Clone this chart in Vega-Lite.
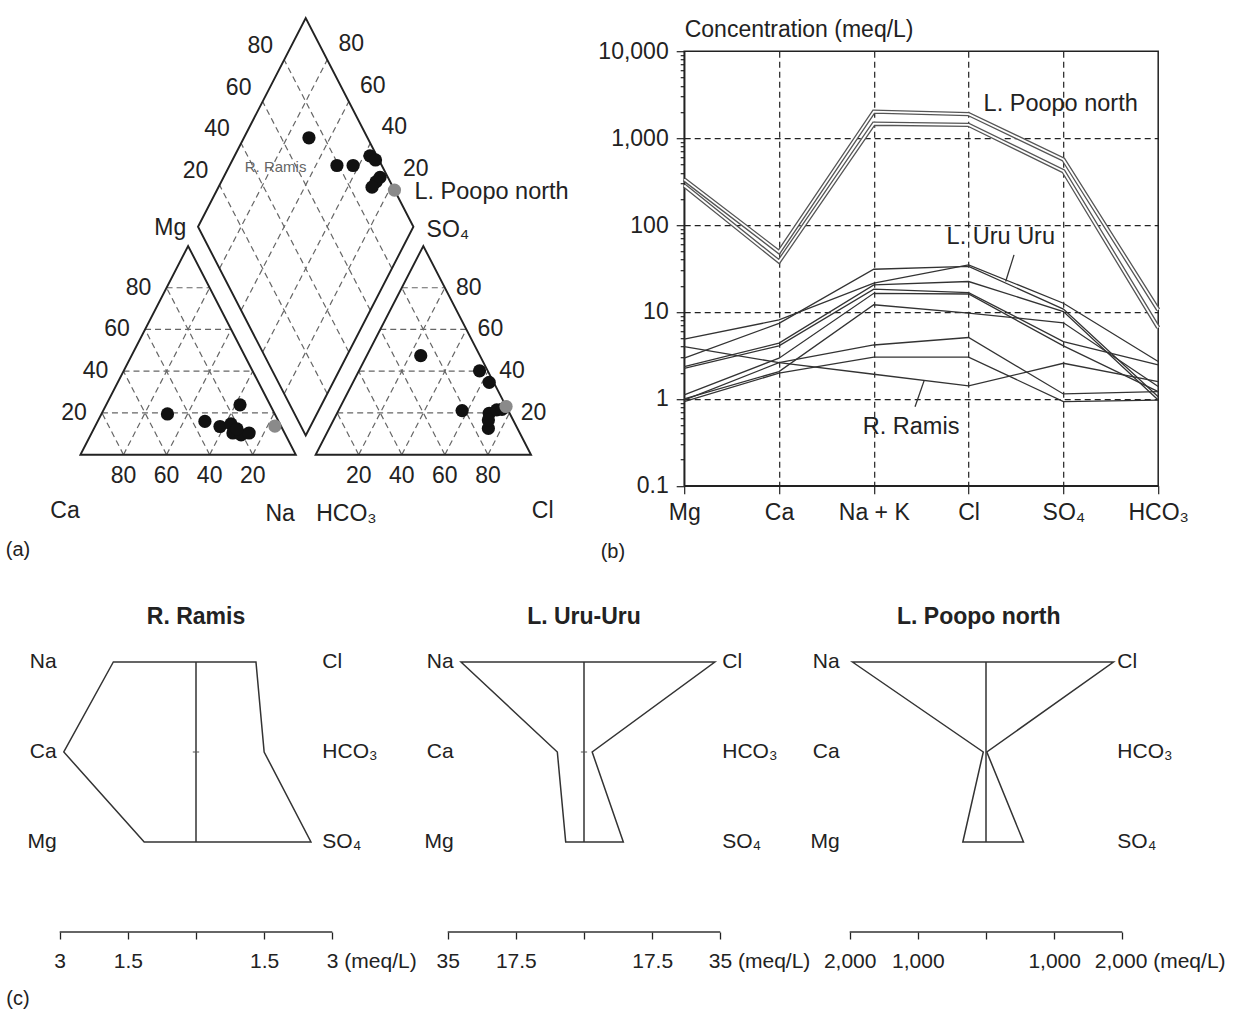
{
 "$schema": "https://vega.github.io/schema/vega-lite/v6.json",
 "padding": 0,
 "background": "white",
 "spacing": 39,
 "config": {
  "font": "Liberation Sans",
  "view": {"stroke": null},
  "text": {"font": "Liberation Sans", "fontSize": 23, "color": "#222"},
  "axis": {"labelFont": "Liberation Sans", "titleFont": "Liberation Sans", "labelColor": "#222", "titleColor": "#222", "domainColor": "#222", "tickColor": "#222"}
 },
 "datasets": {
  "piper_outline": [
   {"shape": "cation", "seq": 1, "x": 0, "y": 0}, {"shape": "cation", "seq": 2, "x": 100, "y": 0}, {"shape": "cation", "seq": 3, "x": 50, "y": 86.6},
   {"shape": "anion", "seq": 1, "x": 109.2, "y": 0}, {"shape": "anion", "seq": 2, "x": 209.2, "y": 0}, {"shape": "anion", "seq": 3, "x": 159.2, "y": 86.6},
   {"shape": "diamond", "seq": 1, "x": 104.6, "y": 7.97}, {"shape": "diamond", "seq": 2, "x": 154.6, "y": 94.57}, {"shape": "diamond", "seq": 3, "x": 104.6, "y": 181.17}, {"shape": "diamond", "seq": 4, "x": 54.6, "y": 94.57}
  ],
  "piper_grid": [
   {"family": "Mg", "value": 20, "x": 10, "y": 17.32, "x2": 90, "y2": 17.32},
   {"family": "Mg", "value": 40, "x": 20, "y": 34.64, "x2": 80, "y2": 34.64},
   {"family": "Mg", "value": 60, "x": 30, "y": 51.96, "x2": 70, "y2": 51.96},
   {"family": "Mg", "value": 80, "x": 40, "y": 69.28, "x2": 60, "y2": 69.28},
   {"family": "Na", "value": 20, "x": 20, "y": 0, "x2": 60, "y2": 69.28},
   {"family": "Na", "value": 40, "x": 40, "y": 0, "x2": 70, "y2": 51.96},
   {"family": "Na", "value": 60, "x": 60, "y": 0, "x2": 80, "y2": 34.64},
   {"family": "Na", "value": 80, "x": 80, "y": 0, "x2": 90, "y2": 17.32},
   {"family": "Ca", "value": 20, "x": 80, "y": 0, "x2": 40, "y2": 69.28},
   {"family": "Ca", "value": 40, "x": 60, "y": 0, "x2": 30, "y2": 51.96},
   {"family": "Ca", "value": 60, "x": 40, "y": 0, "x2": 20, "y2": 34.64},
   {"family": "Ca", "value": 80, "x": 20, "y": 0, "x2": 10, "y2": 17.32},
   {"family": "SO4", "value": 20, "x": 119.2, "y": 17.32, "x2": 199.2, "y2": 17.32},
   {"family": "SO4", "value": 40, "x": 129.2, "y": 34.64, "x2": 189.2, "y2": 34.64},
   {"family": "SO4", "value": 60, "x": 139.2, "y": 51.96, "x2": 179.2, "y2": 51.96},
   {"family": "SO4", "value": 80, "x": 149.2, "y": 69.28, "x2": 169.2, "y2": 69.28},
   {"family": "Cl", "value": 20, "x": 129.2, "y": 0, "x2": 169.2, "y2": 69.28},
   {"family": "Cl", "value": 40, "x": 149.2, "y": 0, "x2": 179.2, "y2": 51.96},
   {"family": "Cl", "value": 60, "x": 169.2, "y": 0, "x2": 189.2, "y2": 34.64},
   {"family": "Cl", "value": 80, "x": 189.2, "y": 0, "x2": 199.2, "y2": 17.32},
   {"family": "HCO3", "value": 20, "x": 189.2, "y": 0, "x2": 149.2, "y2": 69.28},
   {"family": "HCO3", "value": 40, "x": 169.2, "y": 0, "x2": 139.2, "y2": 51.96},
   {"family": "HCO3", "value": 60, "x": 149.2, "y": 0, "x2": 129.2, "y2": 34.64},
   {"family": "HCO3", "value": 80, "x": 129.2, "y": 0, "x2": 119.2, "y2": 17.32},
   {"family": "CaMg", "value": 20, "x": 94.6, "y": 25.29, "x2": 144.6, "y2": 111.89},
   {"family": "CaMg", "value": 40, "x": 84.6, "y": 42.61, "x2": 134.6, "y2": 129.21},
   {"family": "CaMg", "value": 60, "x": 74.6, "y": 59.93, "x2": 124.6, "y2": 146.53},
   {"family": "CaMg", "value": 80, "x": 64.6, "y": 77.25, "x2": 114.6, "y2": 163.85},
   {"family": "SO4Cl", "value": 20, "x": 114.6, "y": 25.29, "x2": 64.6, "y2": 111.89},
   {"family": "SO4Cl", "value": 40, "x": 124.6, "y": 42.61, "x2": 74.6, "y2": 129.21},
   {"family": "SO4Cl", "value": 60, "x": 134.6, "y": 59.93, "x2": 84.6, "y2": 146.53},
   {"family": "SO4Cl", "value": 80, "x": 144.6, "y": 77.25, "x2": 94.6, "y2": 163.85}
  ],
  "piper_points": [
   {"plot": "cation", "group": "other", "x": 40.4, "y": 16.9},
   {"plot": "cation", "group": "other", "x": 57.8, "y": 13.8},
   {"plot": "cation", "group": "other", "x": 64.8, "y": 11.7},
   {"plot": "cation", "group": "other", "x": 69.9, "y": 12.75},
   {"plot": "cation", "group": "other", "x": 74.1, "y": 20.7},
   {"plot": "cation", "group": "other", "x": 70.8, "y": 9.0},
   {"plot": "cation", "group": "other", "x": 74.6, "y": 8.2},
   {"plot": "cation", "group": "other", "x": 78.3, "y": 9.0},
   {"plot": "cation", "group": "other", "x": 72.7, "y": 10.7},
   {"plot": "cation", "group": "L. Poopo north", "x": 90.3, "y": 11.9},
   {"plot": "anion", "group": "other", "x": 158.0, "y": 41.1},
   {"plot": "anion", "group": "other", "x": 185.3, "y": 34.8},
   {"plot": "anion", "group": "other", "x": 189.8, "y": 30.0},
   {"plot": "anion", "group": "other", "x": 177.2, "y": 18.3},
   {"plot": "anion", "group": "other", "x": 189.8, "y": 17.2},
   {"plot": "anion", "group": "other", "x": 193.3, "y": 18.6},
   {"plot": "anion", "group": "other", "x": 189.4, "y": 10.9},
   {"plot": "anion", "group": "other", "x": 189.4, "y": 14.4},
   {"plot": "anion", "group": "other", "x": 195.7, "y": 18.8},
   {"plot": "anion", "group": "L. Poopo north", "x": 197.6, "y": 20.0},
   {"plot": "diamond", "group": "other", "x": 106.1, "y": 131.5},
   {"plot": "diamond", "group": "other", "x": 119.1, "y": 120.0},
   {"plot": "diamond", "group": "other", "x": 126.6, "y": 120.0},
   {"plot": "diamond", "group": "other", "x": 134.4, "y": 124.0},
   {"plot": "diamond", "group": "other", "x": 137.0, "y": 122.3},
   {"plot": "diamond", "group": "other", "x": 139.1, "y": 115.1},
   {"plot": "diamond", "group": "other", "x": 137.2, "y": 113.2},
   {"plot": "diamond", "group": "other", "x": 135.4, "y": 111.0},
   {"plot": "diamond", "group": "L. Poopo north", "x": 145.8, "y": 109.8}
  ],
  "piper_labels": [
   {"label": "Ca", "x": -7.15, "y": -23.4},
   {"label": "Na", "x": 92.7, "y": -24.75},
   {"label": "HCO₃", "x": 123.5, "y": -24.75},
   {"label": "Cl", "x": 214.6, "y": -23.4},
   {"label": "Mg", "x": 41.7, "y": 93.9},
   {"label": "SO₄", "x": 170.6, "y": 93.4}
  ],
  "schoeller": [
   {"sample": "P1", "group": "L. Poopo north", "ion": "Mg", "meq": 335}, {"sample": "P1", "group": "L. Poopo north", "ion": "Ca", "meq": 49}, {"sample": "P1", "group": "L. Poopo north", "ion": "Na+K", "meq": 2018}, {"sample": "P1", "group": "L. Poopo north", "ion": "Cl", "meq": 1890}, {"sample": "P1", "group": "L. Poopo north", "ion": "SO4", "meq": 569}, {"sample": "P1", "group": "L. Poopo north", "ion": "HCO3", "meq": 10.6},
   {"sample": "P2", "group": "L. Poopo north", "ion": "Mg", "meq": 285}, {"sample": "P2", "group": "L. Poopo north", "ion": "Ca", "meq": 38}, {"sample": "P2", "group": "L. Poopo north", "ion": "Na+K", "meq": 1465}, {"sample": "P2", "group": "L. Poopo north", "ion": "Cl", "meq": 1422}, {"sample": "P2", "group": "L. Poopo north", "ion": "SO4", "meq": 416}, {"sample": "P2", "group": "L. Poopo north", "ion": "HCO3", "meq": 6.6},
   {"sample": "U1", "group": "L. Uru Uru", "ion": "Mg", "meq": 4.86}, {"sample": "U1", "group": "L. Uru Uru", "ion": "Ca", "meq": 8.1}, {"sample": "U1", "group": "L. Uru Uru", "ion": "Na+K", "meq": 21.5}, {"sample": "U1", "group": "L. Uru Uru", "ion": "Cl", "meq": 34.8}, {"sample": "U1", "group": "L. Uru Uru", "ion": "SO4", "meq": 12.6}, {"sample": "U1", "group": "L. Uru Uru", "ion": "HCO3", "meq": 2.69},
   {"sample": "U2", "group": "L. Uru Uru", "ion": "Mg", "meq": 2.94}, {"sample": "U2", "group": "L. Uru Uru", "ion": "Ca", "meq": 7.4}, {"sample": "U2", "group": "L. Uru Uru", "ion": "Na+K", "meq": 31}, {"sample": "U2", "group": "L. Uru Uru", "ion": "Cl", "meq": 33.5}, {"sample": "U2", "group": "L. Uru Uru", "ion": "SO4", "meq": 10.8}, {"sample": "U2", "group": "L. Uru Uru", "ion": "HCO3", "meq": 1.06},
   {"sample": "U3", "group": "L. Uru Uru", "ion": "Mg", "meq": 2.35}, {"sample": "U3", "group": "L. Uru Uru", "ion": "Ca", "meq": 4.38}, {"sample": "U3", "group": "L. Uru Uru", "ion": "Na+K", "meq": 20.5}, {"sample": "U3", "group": "L. Uru Uru", "ion": "Cl", "meq": 22.4}, {"sample": "U3", "group": "L. Uru Uru", "ion": "SO4", "meq": 10.1}, {"sample": "U3", "group": "L. Uru Uru", "ion": "HCO3", "meq": 0.97},
   {"sample": "U4", "group": "L. Uru Uru", "ion": "Mg", "meq": 2.25}, {"sample": "U4", "group": "L. Uru Uru", "ion": "Ca", "meq": 4.07}, {"sample": "U4", "group": "L. Uru Uru", "ion": "Na+K", "meq": 18.3}, {"sample": "U4", "group": "L. Uru Uru", "ion": "Cl", "meq": 16.7}, {"sample": "U4", "group": "L. Uru Uru", "ion": "SO4", "meq": 4.57}, {"sample": "U4", "group": "L. Uru Uru", "ion": "HCO3", "meq": 2.46},
   {"sample": "U5", "group": "L. Uru Uru", "ion": "Mg", "meq": 1.11}, {"sample": "U5", "group": "L. Uru Uru", "ion": "Ca", "meq": 2.94}, {"sample": "U5", "group": "L. Uru Uru", "ion": "Na+K", "meq": 16.4}, {"sample": "U5", "group": "L. Uru Uru", "ion": "Cl", "meq": 16.1}, {"sample": "U5", "group": "L. Uru Uru", "ion": "SO4", "meq": 4.07}, {"sample": "U5", "group": "L. Uru Uru", "ion": "HCO3", "meq": 1.21},
   {"sample": "U6", "group": "L. Uru Uru", "ion": "Mg", "meq": 1.0}, {"sample": "U6", "group": "L. Uru Uru", "ion": "Ca", "meq": 2.06}, {"sample": "U6", "group": "L. Uru Uru", "ion": "Na+K", "meq": 12.1}, {"sample": "U6", "group": "L. Uru Uru", "ion": "Cl", "meq": 9.7}, {"sample": "U6", "group": "L. Uru Uru", "ion": "SO4", "meq": 7.5}, {"sample": "U6", "group": "L. Uru Uru", "ion": "HCO3", "meq": 1.39},
   {"sample": "R1", "group": "R. Ramis", "ion": "Mg", "meq": 0.97}, {"sample": "R1", "group": "R. Ramis", "ion": "Ca", "meq": 2.61}, {"sample": "R1", "group": "R. Ramis", "ion": "Na+K", "meq": 4.17}, {"sample": "R1", "group": "R. Ramis", "ion": "Cl", "meq": 5.08}, {"sample": "R1", "group": "R. Ramis", "ion": "SO4", "meq": 1.14}, {"sample": "R1", "group": "R. Ramis", "ion": "HCO3", "meq": 1.21},
   {"sample": "R2", "group": "R. Ramis", "ion": "Mg", "meq": 0.93}, {"sample": "R2", "group": "R. Ramis", "ion": "Ca", "meq": 1.98}, {"sample": "R2", "group": "R. Ramis", "ion": "Na+K", "meq": 3.02}, {"sample": "R2", "group": "R. Ramis", "ion": "Cl", "meq": 3.02}, {"sample": "R2", "group": "R. Ramis", "ion": "SO4", "meq": 0.93}, {"sample": "R2", "group": "R. Ramis", "ion": "HCO3", "meq": 0.97},
   {"sample": "R3", "group": "R. Ramis", "ion": "Mg", "meq": 4.0}, {"sample": "R3", "group": "R. Ramis", "ion": "Ca", "meq": 2.61}, {"sample": "R3", "group": "R. Ramis", "ion": "Na+K", "meq": 1.92}, {"sample": "R3", "group": "R. Ramis", "ion": "Cl", "meq": 1.41}, {"sample": "R3", "group": "R. Ramis", "ion": "SO4", "meq": 2.57}, {"sample": "R3", "group": "R. Ramis", "ion": "HCO3", "meq": 1.58}
  ],
  "stiff_ramis": [
   {"ion": "Na", "label": "Na", "side": "cation", "row": 1, "seq": 1, "meq_signed": -1.82},
   {"ion": "Ca", "label": "Ca", "side": "cation", "row": 2, "seq": 2, "meq_signed": -2.91},
   {"ion": "Mg", "label": "Mg", "side": "cation", "row": 3, "seq": 3, "meq_signed": -1.14},
   {"ion": "SO4", "label": "SO₄", "side": "anion", "row": 3, "seq": 4, "meq_signed": 2.53},
   {"ion": "HCO3", "label": "HCO₃", "side": "anion", "row": 2, "seq": 5, "meq_signed": 1.5},
   {"ion": "Cl", "label": "Cl", "side": "anion", "row": 1, "seq": 6, "meq_signed": 1.32}
  ],
  "stiff_uru": [
   {"ion": "Na", "label": "Na", "side": "cation", "row": 1, "seq": 1, "meq_signed": -31.6},
   {"ion": "Ca", "label": "Ca", "side": "cation", "row": 2, "seq": 2, "meq_signed": -6.85},
   {"ion": "Mg", "label": "Mg", "side": "cation", "row": 3, "seq": 3, "meq_signed": -4.7},
   {"ion": "SO4", "label": "SO₄", "side": "anion", "row": 3, "seq": 4, "meq_signed": 10.1},
   {"ion": "HCO3", "label": "HCO₃", "side": "anion", "row": 2, "seq": 5, "meq_signed": 2.1},
   {"ion": "Cl", "label": "Cl", "side": "anion", "row": 1, "seq": 6, "meq_signed": 33.6}
  ],
  "stiff_poopo": [
   {"ion": "Na", "label": "Na", "side": "cation", "row": 1, "seq": 1, "meq_signed": -1960},
   {"ion": "Ca", "label": "Ca", "side": "cation", "row": 2, "seq": 2, "meq_signed": -40},
   {"ion": "Mg", "label": "Mg", "side": "cation", "row": 3, "seq": 3, "meq_signed": -340},
   {"ion": "SO4", "label": "SO₄", "side": "anion", "row": 3, "seq": 4, "meq_signed": 550},
   {"ion": "HCO3", "label": "HCO₃", "side": "anion", "row": 2, "seq": 5, "meq_signed": 12},
   {"ion": "Cl", "label": "Cl", "side": "anion", "row": 1, "seq": 6, "meq_signed": 1870}
  ]
 },
 "vconcat": [
  {
   "spacing": 94.2,
   "bounds": "flush",
   "center": true,
   "hconcat": [
    {
     "width": 590,
     "height": 536.8,
     "layer": [
      {
       "data": {"name": "piper_grid"},
       "mark": {"type": "rule", "stroke": "#666", "strokeWidth": 1.2, "strokeDash": [6, 4]},
       "encoding": {
        "x": {"field": "x", "type": "quantitative", "scale": {"domain": [-37.33, 236.58], "nice": false, "zero": false}, "axis": null},
        "y": {"field": "y", "type": "quantitative", "scale": {"domain": [-34.11, 188.63], "nice": false, "zero": false}, "axis": null},
        "x2": {"field": "x2"},
        "y2": {"field": "y2"}
       }
      },
      {
       "data": {"name": "piper_outline"},
       "mark": {"type": "line", "interpolate": "linear-closed", "stroke": "#222", "strokeWidth": 1.9},
       "encoding": {
        "x": {"field": "x", "type": "quantitative"},
        "y": {"field": "y", "type": "quantitative"},
        "detail": {"field": "shape"},
        "order": {"field": "seq"}
       }
      },
      {
       "data": {"name": "piper_grid"},
       "transform": [{"filter": "datum.family == 'Mg'"}],
       "mark": {"type": "text", "dx": -28},
       "encoding": {"x": {"field": "x", "type": "quantitative"}, "y": {"field": "y", "type": "quantitative"}, "text": {"field": "value"}}
      },
      {
       "data": {"name": "piper_grid"},
       "transform": [{"filter": "datum.family == 'Ca' || datum.family == 'Cl'"}],
       "mark": {"type": "text", "dy": 21},
       "encoding": {"x": {"field": "x", "type": "quantitative"}, "y": {"field": "y", "type": "quantitative"}, "text": {"field": "value"}}
      },
      {
       "data": {"name": "piper_grid"},
       "transform": [{"filter": "datum.family == 'SO4'"}],
       "mark": {"type": "text", "dx": 24},
       "encoding": {"x": {"field": "x2", "type": "quantitative"}, "y": {"field": "y2", "type": "quantitative"}, "text": {"field": "value"}}
      },
      {
       "data": {"name": "piper_grid"},
       "transform": [{"filter": "datum.family == 'CaMg'"}],
       "mark": {"type": "text", "dx": 24, "dy": -16},
       "encoding": {"x": {"field": "x2", "type": "quantitative"}, "y": {"field": "y2", "type": "quantitative"}, "text": {"field": "value"}}
      },
      {
       "data": {"name": "piper_grid"},
       "transform": [{"filter": "datum.family == 'SO4Cl'"}],
       "mark": {"type": "text", "dx": -24, "dy": -14},
       "encoding": {"x": {"field": "x2", "type": "quantitative"}, "y": {"field": "y2", "type": "quantitative"}, "text": {"field": "value"}}
      },
      {
       "data": {"name": "piper_points"},
       "mark": {"type": "circle", "size": 175, "opacity": 1},
       "encoding": {
        "x": {"field": "x", "type": "quantitative"},
        "y": {"field": "y", "type": "quantitative"},
        "color": {"field": "group", "type": "nominal", "scale": {"domain": ["L. Poopo north", "other"], "range": ["#8a8a8a", "#111111"]}, "legend": null}
       }
      },
      {
       "data": {"name": "piper_labels"},
       "mark": {"type": "text"},
       "encoding": {"x": {"field": "x", "type": "quantitative"}, "y": {"field": "y", "type": "quantitative"}, "text": {"field": "label"}}
      },
      {
       "data": {"values": [{"label": "(a)"}]},
       "mark": {"type": "text", "fontSize": 20},
       "encoding": {"x": {"datum": -28.97}, "y": {"datum": -39.75}, "text": {"field": "label"}}
      },
      {
       "data": {"values": [{"label": "L. Poopo north"}]},
       "mark": {"type": "text", "align": "left", "fontSize": 23.5},
       "encoding": {"x": {"datum": 155.1}, "y": {"datum": 108.8}, "text": {"field": "label"}}
      },
      {
       "data": {"values": [{"label": "R. Ramis"}]},
       "mark": {"type": "text", "fontSize": 15, "color": "#666"},
       "encoding": {"x": {"datum": 90.6}, "y": {"datum": 119.2}, "text": {"field": "label"}}
      }
     ]
    },
    {
     "width": 474,
     "height": 434.6,
     "view": {"stroke": "#222", "strokeWidth": 1.5},
     "resolve": {"scale": {"x": "independent"}},
     "layer": [
      {
       "data": {"name": "schoeller"},
       "encoding": {
        "x": {
         "field": "ion", "type": "nominal",
         "scale": {"type": "point", "domain": ["Mg", "Ca", "Na+K", "Cl", "SO4", "HCO3"], "padding": 0},
         "axis": {
          "title": null, "labelAngle": 0,
          "labelExpr": "datum.value == 'Na+K' ? 'Na + K' : datum.value == 'SO4' ? 'SO₄' : datum.value == 'HCO3' ? 'HCO₃' : datum.value",
          "labelFontSize": 23, "labelPadding": 8, "tickSize": 8, "tickWidth": 1.2,
          "grid": true, "gridDash": [6, 4], "gridColor": "#222", "gridWidth": 1.2,
          "gridOpacity": {"condition": {"test": "datum.value == 'Mg' || datum.value == 'HCO3'", "value": 0}, "value": 1},
          "domainWidth": 1.5
         }
        },
        "y": {
         "field": "meq", "type": "quantitative",
         "scale": {"type": "log", "domain": [0.1, 10000], "nice": false},
         "axis": {
          "values": [0.1, 0.2, 0.3, 0.4, 0.5, 0.6, 0.7, 0.8, 0.9, 1, 2, 3, 4, 5, 6, 7, 8, 9, 10, 20, 30, 40, 50, 60, 70, 80, 90, 100, 200, 300, 400, 500, 600, 700, 800, 900, 1000, 2000, 3000, 4000, 5000, 6000, 7000, 8000, 9000, 10000],
          "format": ",",
          "labelExpr": "indexof([0.1, 1, 10, 100, 1000, 10000], datum.value) >= 0 ? datum.label : ''",
          "labelOverlap": false, "labelFlush": false,
          "tickSize": {"condition": {"test": "indexof([0.1, 1, 10, 100, 1000, 10000], datum.value) >= 0", "value": 8}, "value": 4},
          "tickWidth": 1.2,
          "grid": true, "gridDash": [6, 4], "gridColor": "#222", "gridWidth": 1.2,
          "gridOpacity": {"condition": {"test": "indexof([1, 10, 100, 1000], datum.value) >= 0", "value": 1}, "value": 0},
          "labelFontSize": 23, "labelPadding": 8,
          "title": "Concentration (meq/L)", "titleAngle": 0, "titleAlign": "left", "titleX": 0, "titleY": -22, "titleBaseline": "middle", "titleFontSize": 23, "titleFontWeight": "normal",
          "domainWidth": 1.5
         }
        },
        "detail": {"field": "sample"}
       },
       "layer": [
        {"transform": [{"filter": "datum.group != 'L. Poopo north'"}], "mark": {"type": "line", "stroke": "#333", "strokeWidth": 1.3}},
        {"transform": [{"filter": "datum.group == 'L. Poopo north'"}], "mark": {"type": "line", "stroke": "#555", "strokeWidth": 4.4}},
        {"transform": [{"filter": "datum.group == 'L. Poopo north'"}], "mark": {"type": "line", "stroke": "#ffffff", "strokeWidth": 1.8}}
       ]
      },
      {
       "layer": [
        {
         "data": {"values": [{"label": "L. Uru Uru leader"}]},
         "mark": {"type": "rule", "stroke": "#333", "strokeWidth": 1.3},
         "encoding": {
          "x": {"datum": 3.479, "type": "quantitative", "scale": {"domain": [0, 5], "nice": false, "zero": false}, "axis": null},
          "x2": {"datum": 3.391},
          "y": {"datum": 45.4},
          "y2": {"datum": 22.4}
         }
        },
        {
         "data": {"values": [{"label": "R. Ramis leader"}]},
         "mark": {"type": "rule", "stroke": "#333", "strokeWidth": 1.3},
         "encoding": {"x": {"datum": 2.53}, "x2": {"datum": 2.435}, "y": {"datum": 1.61}, "y2": {"datum": 0.81}}
        },
        {
         "data": {"values": [{"label": "L. Poopo north"}]},
         "mark": {"type": "text", "align": "left", "fontSize": 23.5},
         "encoding": {"x": {"datum": 3.158}, "y": {"datum": 2500}, "text": {"field": "label"}}
        },
        {
         "data": {"values": [{"label": "L. Uru Uru"}]},
         "mark": {"type": "text", "align": "left", "fontSize": 23.5},
         "encoding": {"x": {"datum": 2.768}, "y": {"datum": 72}, "text": {"field": "label"}}
        },
        {
         "data": {"values": [{"label": "R. Ramis"}]},
         "mark": {"type": "text", "align": "left", "fontSize": 23.5},
         "encoding": {"x": {"datum": 1.884}, "y": {"datum": 0.479}, "text": {"field": "label"}}
        },
        {
         "data": {"values": [{"label": "(b)"}]},
         "mark": {"type": "text", "fontSize": 20},
         "encoding": {"x": {"datum": -0.752}, "y": {"datum": 0.0175}, "text": {"field": "label"}}
        }
       ]
      }
     ]
    }
   ]
  },
  {
   "spacing": 0,
   "bounds": "flush",
   "hconcat": [
    {
     "width": 392,
     "height": 330,
     "layer": [
      {
       "data": {"name": "stiff_ramis"},
       "mark": {"type": "line", "interpolate": "linear-closed", "stroke": "#333", "strokeWidth": 1.5},
       "encoding": {
        "x": {
         "field": "meq_signed", "type": "quantitative",
         "scale": {"domain": [-4.314, 4.314], "nice": false, "zero": false},
         "axis": {
          "values": [-3, -1.5, 0, 1.5, 3],
          "labelExpr": "datum.value == 0 ? '' : datum.value == 3 ? '3 (meq/L)' : format(abs(datum.value), ',')",
          "domain": false, "grid": false, "tickSize": 7, "tickWidth": 1.3, "labelFontSize": 21, "labelPadding": 11, "title": null,
          "labelOverlap": false, "labelFlush": false,
          "labelAlign": {"condition": {"test": "datum.value == 3", "value": "left"}, "value": "center"},
          "labelOffset": {"condition": {"test": "datum.value == 3", "value": -6}, "value": 0}
         }
        },
        "y": {"field": "row", "type": "quantitative", "scale": {"domain": [0.3333, 4], "reverse": true, "nice": false, "zero": false}, "axis": null},
        "order": {"field": "seq"}
       }
      },
      {
       "data": {"name": "stiff_ramis"},
       "transform": [{"filter": "datum.side == 'cation'"}],
       "mark": {"type": "text", "align": "right", "dx": -3, "fontSize": 21},
       "encoding": {"x": {"datum": -3}, "y": {"field": "row", "type": "quantitative"}, "text": {"field": "label"}}
      },
      {
       "data": {"name": "stiff_ramis"},
       "transform": [{"filter": "datum.side == 'anion'"}],
       "mark": {"type": "text", "align": "left", "dx": -10, "fontSize": 21},
       "encoding": {"x": {"datum": 3}, "y": {"field": "row", "type": "quantitative"}, "text": {"field": "label"}}
      },
      {
       "data": {"values": [{"label": "R. Ramis"}]},
       "layer": [
        {"mark": {"type": "rule", "stroke": "#333", "strokeWidth": 1.5}, "encoding": {"x": {"datum": 0}, "y": {"datum": 1}, "y2": {"datum": 3}}},
        {"mark": {"type": "rule", "stroke": "#333", "strokeWidth": 1.3}, "encoding": {"x": {"datum": -3}, "x2": {"datum": 3}, "y": {"datum": 4}}},
        {"mark": {"type": "rule", "stroke": "#555", "strokeWidth": 1}, "encoding": {"x": {"datum": -0.07}, "x2": {"datum": 0.07}, "y": {"datum": 2}}},
        {"mark": {"type": "text", "fontSize": 23, "fontWeight": "bold"}, "encoding": {"x": {"datum": 0}, "y": {"datum": 0.5}, "text": {"field": "label"}}},
        {"mark": {"type": "text", "fontSize": 20}, "encoding": {"x": {"datum": -3.918}, "y": {"datum": 4.744}, "text": {"value": "(c)"}}}
       ]
      }
     ]
    },
    {
     "width": 384,
     "height": 330,
     "layer": [
      {
       "data": {"name": "stiff_uru"},
       "mark": {"type": "line", "interpolate": "linear-closed", "stroke": "#333", "strokeWidth": 1.5},
       "encoding": {
        "x": {
         "field": "meq_signed", "type": "quantitative",
         "scale": {"domain": [-49.31, 49.31], "nice": false, "zero": false},
         "axis": {
          "values": [-35, -17.5, 0, 17.5, 35],
          "labelExpr": "datum.value == 0 ? '' : datum.value == 35 ? '35 (meq/L)' : format(abs(datum.value), ',')",
          "domain": false, "grid": false, "tickSize": 7, "tickWidth": 1.3, "labelFontSize": 21, "labelPadding": 11, "title": null,
          "labelOverlap": false, "labelFlush": false,
          "labelAlign": {"condition": {"test": "datum.value == 35", "value": "left"}, "value": "center"},
          "labelOffset": {"condition": {"test": "datum.value == 35", "value": -12}, "value": 0}
         }
        },
        "y": {"field": "row", "type": "quantitative", "scale": {"domain": [0.3333, 4], "reverse": true, "nice": false, "zero": false}, "axis": null},
        "order": {"field": "seq"}
       }
      },
      {
       "data": {"name": "stiff_uru"},
       "transform": [{"filter": "datum.side == 'cation'"}],
       "mark": {"type": "text", "align": "right", "dx": 6, "fontSize": 21},
       "encoding": {"x": {"datum": -35}, "y": {"field": "row", "type": "quantitative"}, "text": {"field": "label"}}
      },
      {
       "data": {"name": "stiff_uru"},
       "transform": [{"filter": "datum.side == 'anion'"}],
       "mark": {"type": "text", "align": "left", "dx": 2, "fontSize": 21},
       "encoding": {"x": {"datum": 35}, "y": {"field": "row", "type": "quantitative"}, "text": {"field": "label"}}
      },
      {
       "data": {"values": [{"label": "L. Uru-Uru"}]},
       "layer": [
        {"mark": {"type": "rule", "stroke": "#333", "strokeWidth": 1.5}, "encoding": {"x": {"datum": 0}, "y": {"datum": 1}, "y2": {"datum": 3}}},
        {"mark": {"type": "rule", "stroke": "#333", "strokeWidth": 1.3}, "encoding": {"x": {"datum": -35}, "x2": {"datum": 35}, "y": {"datum": 4}}},
        {"mark": {"type": "rule", "stroke": "#555", "strokeWidth": 1}, "encoding": {"x": {"datum": -0.8}, "x2": {"datum": 0.8}, "y": {"datum": 2}}},
        {"mark": {"type": "text", "fontSize": 23, "fontWeight": "bold"}, "encoding": {"x": {"datum": 0}, "y": {"datum": 0.5}, "text": {"field": "label"}}}
       ]
      }
     ]
    },
    {
     "width": 420,
     "height": 330,
     "layer": [
      {
       "data": {"name": "stiff_poopo"},
       "mark": {"type": "line", "interpolate": "linear-closed", "stroke": "#333", "strokeWidth": 1.5},
       "encoding": {
        "x": {
         "field": "meq_signed", "type": "quantitative",
         "scale": {"domain": [-3081, 3081], "nice": false, "zero": false},
         "axis": {
          "values": [-2000, -1000, 0, 1000, 2000],
          "labelExpr": "datum.value == 0 ? '' : datum.value == 2000 ? '2,000 (meq/L)' : format(abs(datum.value), ',')",
          "domain": false, "grid": false, "tickSize": 7, "tickWidth": 1.3, "labelFontSize": 21, "labelPadding": 11, "title": null,
          "labelOverlap": false, "labelFlush": false,
          "labelAlign": {"condition": {"test": "datum.value == 2000", "value": "left"}, "value": "center"},
          "labelOffset": {"condition": {"test": "datum.value == 2000", "value": -28}, "value": 0}
         }
        },
        "y": {"field": "row", "type": "quantitative", "scale": {"domain": [0.3333, 4], "reverse": true, "nice": false, "zero": false}, "axis": null},
        "order": {"field": "seq"}
       }
      },
      {
       "data": {"name": "stiff_poopo"},
       "transform": [{"filter": "datum.side == 'cation'"}],
       "mark": {"type": "text", "align": "right", "dx": -10, "fontSize": 21},
       "encoding": {"x": {"datum": -2000}, "y": {"field": "row", "type": "quantitative"}, "text": {"field": "label"}}
      },
      {
       "data": {"name": "stiff_poopo"},
       "transform": [{"filter": "datum.side == 'anion'"}],
       "mark": {"type": "text", "align": "left", "dx": -5, "fontSize": 21},
       "encoding": {"x": {"datum": 2000}, "y": {"field": "row", "type": "quantitative"}, "text": {"field": "label"}}
      },
      {
       "data": {"values": [{"label": "L. Poopo north"}]},
       "layer": [
        {"mark": {"type": "rule", "stroke": "#333", "strokeWidth": 1.5}, "encoding": {"x": {"datum": 0}, "y": {"datum": 1}, "y2": {"datum": 3}}},
        {"mark": {"type": "rule", "stroke": "#333", "strokeWidth": 1.3}, "encoding": {"x": {"datum": -2000}, "x2": {"datum": 2000}, "y": {"datum": 4}}},
        {"mark": {"type": "text", "fontSize": 23, "fontWeight": "bold"}, "encoding": {"x": {"datum": -107}, "y": {"datum": 0.5}, "text": {"field": "label"}}}
       ]
      }
     ]
    }
   ]
  }
 ]
}
